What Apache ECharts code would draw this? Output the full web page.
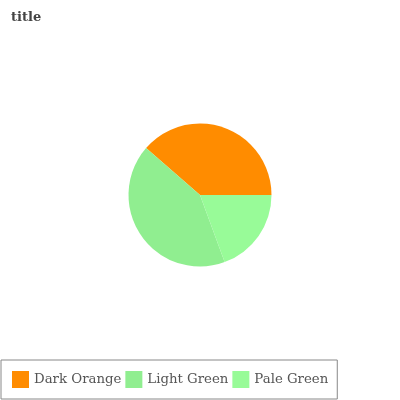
<!DOCTYPE html>
<html><head><meta charset="utf-8">
<script src="https://cdn.jsdelivr.net/npm/echarts@6/dist/echarts.min.js"></script>
<style>html,body{margin:0;padding:0;background:#fff}#c{width:400px;height:400px}</style>
</head><body><div id="c"></div>
<script>
const categories = ["Dark Orange", "Light Green", "Pale Green"];
const values = [38.6, 42.0, 19.4];
const colors = ["#ff8c00", "#90ee90", "#98fb98"];

const chart = echarts.init(document.getElementById('c'), null, {renderer: 'canvas'});
chart.setOption({
  animation: false,
  title: {
    text: 'title', left: 6, top: 6,
    textStyle: {fontFamily: 'DejaVu Serif', fontSize: 13, fontWeight: 'bold', color: '#444'}
  },
  legend: {
    data: categories,
    left: 1, bottom: 1,
    orient: 'horizontal',
    padding: [11, 9, 11, 11],
    itemWidth: 17, itemHeight: 17, itemGap: 4,
    borderColor: '#888', borderWidth: 1, borderRadius: 0,
    icon: 'rect',
    textStyle: {fontFamily: 'DejaVu Serif', fontSize: 13.3, color: '#555'}
  },
  series: [{
    type: 'pie',
    center: [200, 195],
    radius: 71.5,
    startAngle: 0,
    clockwise: false,
    label: {show: false},
    labelLine: {show: false},
    emphasis: {disabled: true},
    itemStyle: {borderWidth: 0},
    data: categories.map((n, i) => ({name: n, value: values[i], itemStyle: {color: colors[i]}}))
  }]
});
</script></body></html>
